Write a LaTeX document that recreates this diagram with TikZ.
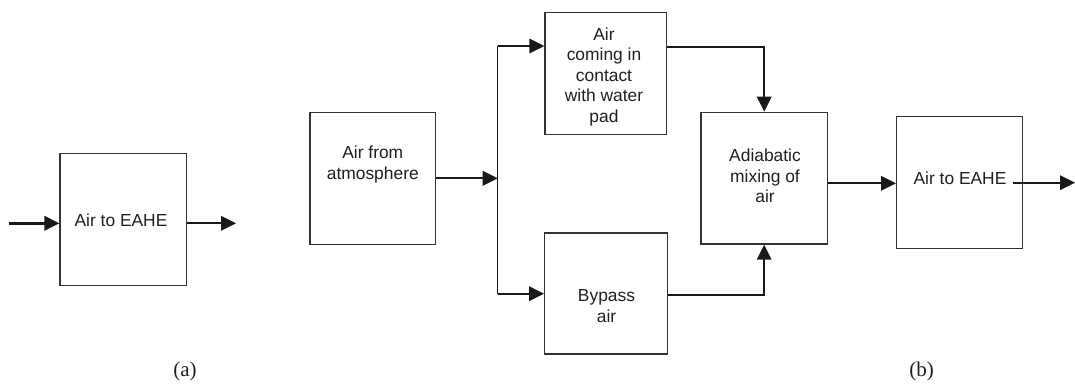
\documentclass[tikz,border=0pt]{standalone}
\usepackage{fontspec}
\setmainfont{Liberation Sans}
\newfontfamily\capfont{Liberation Serif}
\usetikzlibrary{arrows.meta}
\begin{document}
\begin{tikzpicture}[x=1pt,y=-1pt,
  blk/.style={draw=black!80,line width=1.3pt,inner sep=0pt,minimum width=#1},
  blk/.default=126pt,
  txt/.style={inner sep=0pt,align=center,font=\fontsize{17.4}{20.5}\selectfont,text=black!88},
  figlabel/.style={inner sep=0pt,font=\capfont\fontsize{21}{24}\selectfont,text=black!88},
  arr/.style={draw=black!90,line width=1.8pt,-{Triangle[length=15pt,width=14.5pt]}},
  ln/.style={draw=black!90,line width=1.4pt}]
\useasboundingbox (0,0) rectangle (1075,383);
% (a)
\node[blk=126.7pt,minimum height=132.4pt] (boxa) at (123.3,219.5) {};
\node[txt,anchor=base] (ta) at (121,226.7) {Air to EAHE};
\coordinate (ain) at (9,223.3);
\coordinate (aout) at (236,223.3);
\draw[arr,line width=2.4pt] (ain) -- (ain -| boxa.west);
\draw[arr] (aout -| boxa.east) -- (aout);
\node[figlabel] (la) at (185,371) {(a)};
% (b)
\node[blk=125.7pt,minimum height=131.6pt] (atm) at (372.9,178.5) {};
\node[txt,anchor=north] (tatm) at (372.8,145.9) {Air from\\atmosphere};
\node[blk=121.7pt,minimum height=121.6pt] (top) at (605.8,73.5) {};
\node[txt,anchor=north] (ttop) at (604,27.2) {Air\\coming in\\contact\\with water\\pad};
\node[blk=122.5pt,minimum height=121pt] (byp) at (606,293.5) {};
\node[txt,anchor=north] (tbyp) at (606.5,289.7) {Bypass\\air};
\node[blk=126.3pt,minimum height=131.7pt] (mix) at (764.2,178.2) {};
\node[txt,anchor=north] (tmix) at (765,148.7) {Adiabatic\\mixing of\\air};
\node[blk=126pt,minimum height=131.6pt] (eahe) at (959.7,182.5) {};
\node[txt,anchor=base] (teahe) at (960,184.3) {Air to EAHE};
\node[figlabel] (lb) at (921.7,371) {(b)};
% connectors
\coordinate (j) at (497.7,178.3);
\coordinate (jt) at (497.7,46);
\coordinate (jb) at (497.7,293.7);
\draw[arr] (atm.east |- j) -- (j);
\draw[ln] (jt) -- (jb);
\draw[arr] (jt) -- (top.west |- jt);
\draw[arr] (jb) -- (byp.west |- jb);
\draw[arr] ([yshift=26.8pt]top.east) -| (mix.north);
\draw[arr] ([yshift=-1.2pt]byp.east) -| (mix.south);
\draw[arr] ([yshift=-5.1pt]mix.east) -- ([yshift=-5.1pt]mix.east -| eahe.west);
\coordinate (eout) at (1075,182.7);
\draw[arr] ([xshift=-10pt]eahe.east |- eout) -- (eout);
\end{tikzpicture}
\end{document}
